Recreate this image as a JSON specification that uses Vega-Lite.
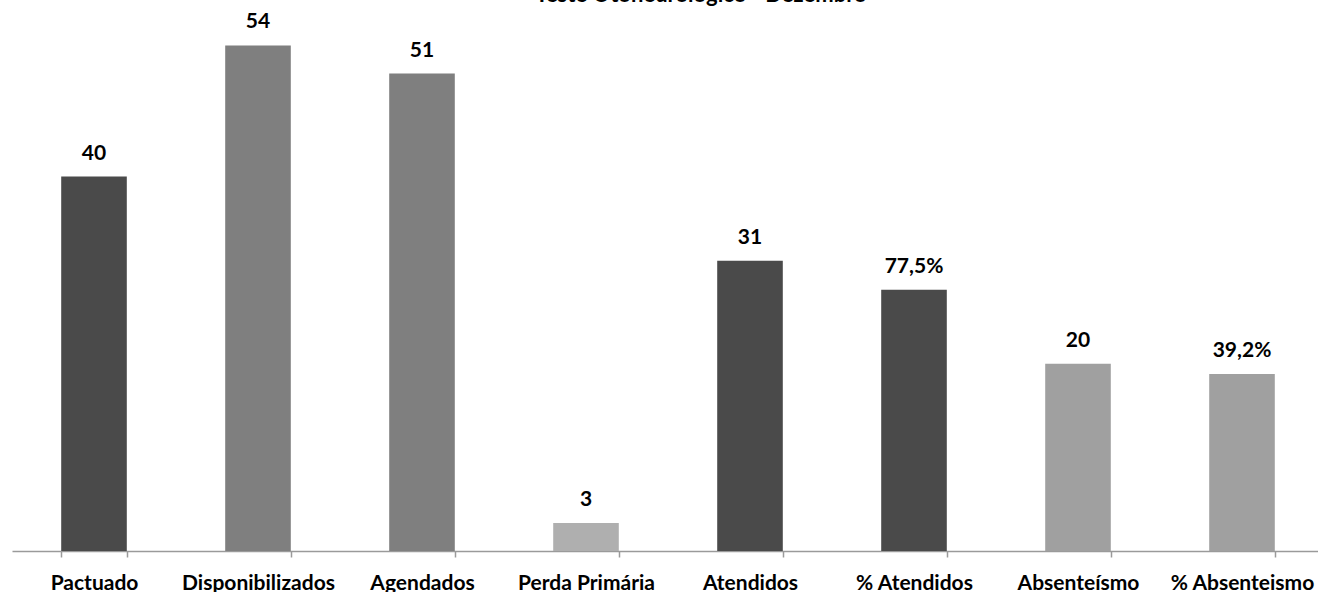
{
  "$schema": "https://vega.github.io/schema/vega-lite/v6.json",
  "autosize": "none",
  "width": 1312,
  "height": 543,
  "padding": {"left": 12, "top": 8, "right": 0, "bottom": 41},
  "background": "white",
  "title": {
    "text": "Teste Otoneurológico - Dezembro",
    "font": "Lato",
    "fontSize": 22,
    "fontWeight": "bold",
    "color": "#000000",
    "anchor": "middle",
    "frame": "group",
    "dx": 33,
    "dy": 16,
    "offset": 0,
    "baseline": "alphabetic"
  },
  "config": {"view": {"stroke": null}},
  "data": {
    "values": [
      {"categoria": "Pactuado", "valor": 40, "rotulo": "40", "grupo": "Meta"},
      {"categoria": "Disponibilizados", "valor": 54, "rotulo": "54", "grupo": "Oferta"},
      {"categoria": "Agendados", "valor": 51, "rotulo": "51", "grupo": "Oferta"},
      {"categoria": "Perda Primária", "valor": 3, "rotulo": "3", "grupo": "Perda"},
      {"categoria": "Atendidos", "valor": 31, "rotulo": "31", "grupo": "Meta"},
      {"categoria": "% Atendidos", "valor": 27.9, "rotulo": "77,5%", "grupo": "Meta"},
      {"categoria": "Absenteísmo", "valor": 20, "rotulo": "20", "grupo": "Ausência"},
      {"categoria": "% Absenteismo", "valor": 18.9, "rotulo": "39,2%", "grupo": "Ausência"}
    ]
  },
  "encoding": {
    "x": {
      "field": "categoria",
      "type": "nominal",
      "sort": null,
      "scale": {"paddingInner": 0.6, "paddingOuter": 0.3},
      "axis": {
        "title": null,
        "labelAngle": 0,
        "labelFont": "Lato",
        "labelFontSize": 21,
        "labelFontWeight": "bold",
        "labelColor": "#000000",
        "labelBaseline": "alphabetic",
        "labelPadding": 32,
        "domainColor": "#9a9a9a",
        "domainWidth": 1.5,
        "tickColor": "#9a9a9a",
        "tickWidth": 1.5,
        "tickSize": 6,
        "tickBand": "extent",
        "grid": false
      }
    },
    "y": {
      "field": "valor",
      "type": "quantitative",
      "scale": {"domain": [0, 58], "nice": false},
      "axis": null
    }
  },
  "layer": [
    {
      "mark": {"type": "bar"},
      "encoding": {
        "color": {
          "field": "grupo",
          "type": "nominal",
          "scale": {
            "domain": ["Meta", "Oferta", "Perda", "Ausência"],
            "range": ["#4a4a4a", "#7f7f7f", "#afafaf", "#a0a0a0"]
          },
          "legend": null
        }
      }
    },
    {
      "mark": {
        "type": "text",
        "font": "Lato",
        "fontSize": 21,
        "fontWeight": "bold",
        "color": "#000000",
        "baseline": "alphabetic",
        "dy": -17
      },
      "encoding": {"text": {"field": "rotulo"}}
    }
  ]
}
